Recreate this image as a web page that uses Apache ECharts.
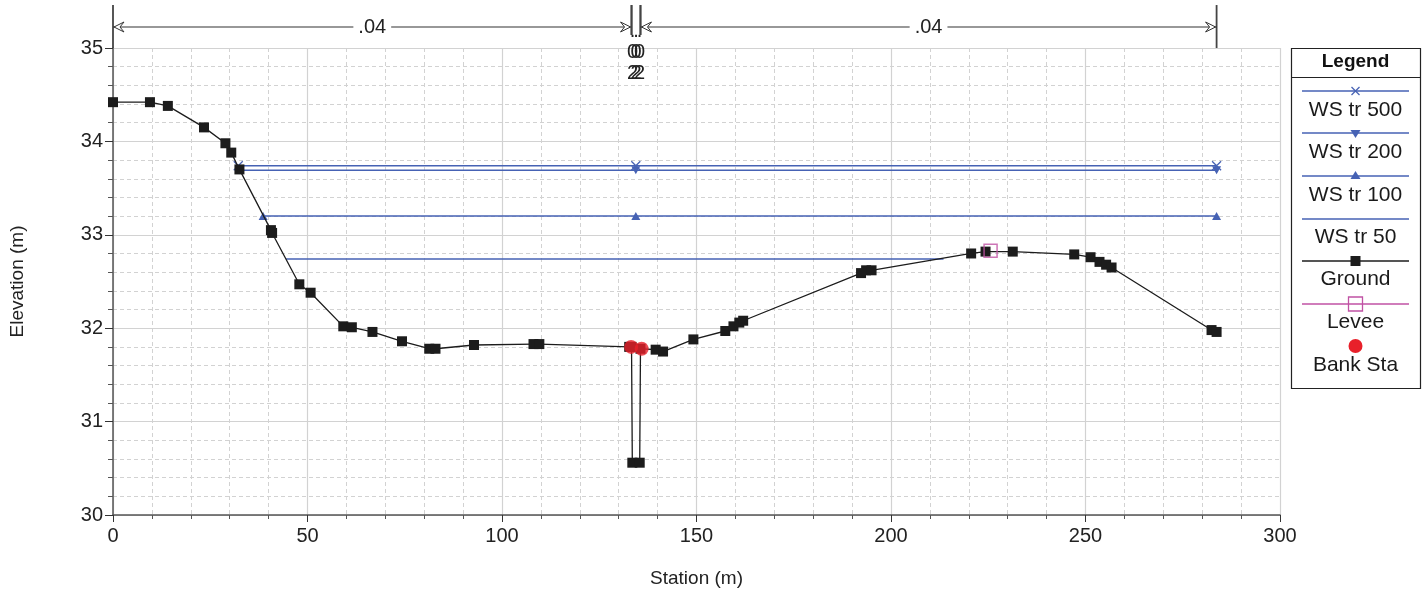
<!DOCTYPE html>
<html>
<head>
<meta charset="utf-8">
<script src="https://cdn.jsdelivr.net/npm/echarts@6/dist/echarts.min.js"></script>
<style>
html,body{margin:0;padding:0;background:#fff;}
#chart{width:1428px;height:597px;}
</style>
</head>
<body>
<div id="chart"></div>
<script>
// ---- Data ----
const groundSta = [0, 9.5, 14.1, 23.4, 28.9, 30.4, 32.5, 40.6, 40.9, 47.9, 50.8, 59.2, 61.4, 66.7, 74.3, 81.3, 82.9, 92.8, 108.1, 109.6, 132.7, 133.3, 133.5, 135.4, 135.6, 139.5, 141.4, 149.2, 157.4, 159.5, 161.0, 162.0, 192.3, 193.6, 195.0, 220.6, 224.3, 231.3, 247.1, 251.3, 253.6, 255.3, 256.7, 282.4, 283.7];
const groundElev = [34.42, 34.42, 34.38, 34.15, 33.98, 33.88, 33.70, 33.05, 33.02, 32.47, 32.38, 32.02, 32.01, 31.96, 31.86, 31.78, 31.78, 31.82, 31.83, 31.83, 31.80, 31.80, 30.56, 30.56, 31.78, 31.77, 31.75, 31.88, 31.97, 32.02, 32.06, 32.08, 32.59, 32.62, 32.62, 32.80, 32.82, 32.82, 32.79, 32.76, 32.71, 32.68, 32.65, 31.98, 31.96];

const ws500Sta = [32.2, 134.4, 283.7];
const ws500Elev = [33.74, 33.74, 33.74];
const ws200Sta = [32.6, 134.4, 283.7];
const ws200Elev = [33.69, 33.69, 33.69];
const ws100Sta = [38.6, 134.4, 283.7];
const ws100Elev = [33.20, 33.20, 33.20];
const ws50Sta = [44.5, 213.5];
const ws50Elev = [32.74, 32.74];

const leveeSta = [225.6];
const leveeElev = [32.83];
const bankSta = [133.2, 135.9];
const bankElev = [31.80, 31.78];

// Manning's n regions (breakpoints and values)
const nBreaks = [0, 133.3, 135.6, 283.7];
const nValues = ['.04', '.02', '.04'];

const legendNames = ['WS tr 500', 'WS tr 200', 'WS tr 100', 'WS tr 50', 'Ground', 'Levee', 'Bank Sta'];

// ---- Styling ----
const FONT = "'Liberation Sans', Arial, Helvetica, sans-serif";
const WS_COLOR = '#4662b4';
const GROUND_COLOR = '#1c1c1c';
const LEVEE_COLOR = '#c052a4';
const BANK_COLOR = '#e8202a';
const ANNOT_COLOR = '#333333';
const crossPath = 'path://M0,0L10,10M10,0L0,10';

function pairs(xs, ys) { return xs.map((x, i) => [x, ys[i]]); }

const chart = echarts.init(document.getElementById('chart'), null, {renderer: 'canvas'});

function renderAnnot(params, api) {
  const i = params.dataIndex;
  const s0 = api.value(0), s1 = api.value(1), yLine = api.value(2);
  const first = nBreaks[0], last = nBreaks[nBreaks.length - 1];
  const yTopVal = 35.46, yShortVal = 35.14, yAxisTop = 35;
  const p0 = api.coord([s0, yLine]);
  const p1 = api.coord([s1, yLine]);
  const children = [];
  const vert = (s) => {
    const top = api.coord([s, yTopVal]);
    const bot = api.coord([s, (s === first || s === last) ? yAxisTop : yShortVal]);
    children.push({type: 'line', shape: {x1: top[0], y1: top[1], x2: bot[0], y2: bot[1]}, style: {stroke: '#444', lineWidth: 1.8}});
  };
  vert(s0); vert(s1);
  const w = p1[0] - p0[0];
  const label = nValues[i];
  if (w > 30) {
    children.push({type: 'line', shape: {x1: p0[0], y1: p0[1], x2: p1[0], y2: p1[1]}, style: {stroke: ANNOT_COLOR, lineWidth: 1.2}});
    const arrow = (tip, dir) => {
      const y = p0[1];
      return {type: 'polygon', shape: {points: [[tip, y], [tip + dir * 10, y - 5], [tip + dir * 6, y], [tip + dir * 10, y + 5]]}, style: {stroke: ANNOT_COLOR, fill: '#fff', lineWidth: 1}};
    };
    children.push(arrow(p0[0] + 1, 1));
    children.push(arrow(p1[0] - 1, -1));
    children.push({type: 'text', style: {text: label, x: (p0[0] + p1[0]) / 2, y: p0[1], align: 'center', verticalAlign: 'middle', fill: '#222', fontSize: 20, fontFamily: FONT, backgroundColor: '#fff', padding: [0, 5]}});
  } else {
    const cx = (p0[0] + p1[0]) / 2;
    const stacked = label.split('').join('\n');
    [-3.5, 0, 3.5].forEach(dx => {
      children.push({type: 'text', style: {text: stacked, x: cx + dx, y: p0[1] - 6, align: 'center', verticalAlign: 'top', fill: '#222', fontSize: 20, lineHeight: 21, fontFamily: FONT}});
    });
  }
  return {type: 'group', children: children};
}

const annotData = nValues.map((v, i) => [nBreaks[i], nBreaks[i + 1], 35.225]);

// ---- Legend (drawn as graphic) ----
const LX = 1291.5, LY = 48.5, LW = 129, LH = 340;
const lx1 = 1302, lx2 = 1409, lcx = 1355.5;
const lineYs = [91, 133, 176, 219, 261, 304, 346];
const labYs = [110, 152, 195, 237, 279, 322, 365];
const legendGraphics = [
  {type: 'rect', shape: {x: LX, y: LY, width: LW, height: LH}, style: {fill: '#fff', stroke: '#222', lineWidth: 1.2}, z: 10},
  {type: 'text', style: {text: 'Legend', x: lcx, y: 62, align: 'center', verticalAlign: 'middle', font: 'bold 19px ' + FONT, fill: '#111'}, z: 11},
  {type: 'line', shape: {x1: LX, y1: 77.5, x2: LX + LW, y2: 77.5}, style: {stroke: '#222', lineWidth: 1}, z: 11}
];
const legendLineColors = [WS_COLOR, WS_COLOR, WS_COLOR, WS_COLOR, GROUND_COLOR, LEVEE_COLOR, null];
legendNames.forEach((name, i) => {
  const y = lineYs[i];
  const c = legendLineColors[i];
  if (c) legendGraphics.push({type: 'line', shape: {x1: lx1, y1: y, x2: lx2, y2: y}, style: {stroke: c, lineWidth: i < 4 ? 1.6 : 1.3}, z: 11});
  if (i === 0) {
    legendGraphics.push({type: 'line', shape: {x1: lcx - 4, y1: y - 4, x2: lcx + 4, y2: y + 4}, style: {stroke: WS_COLOR, lineWidth: 1.3}, z: 12});
    legendGraphics.push({type: 'line', shape: {x1: lcx - 4, y1: y + 4, x2: lcx + 4, y2: y - 4}, style: {stroke: WS_COLOR, lineWidth: 1.3}, z: 12});
  } else if (i === 1) {
    legendGraphics.push({type: 'polygon', shape: {points: [[lcx - 5, y - 3], [lcx + 5, y - 3], [lcx, y + 5]]}, style: {fill: WS_COLOR}, z: 12});
  } else if (i === 2) {
    legendGraphics.push({type: 'polygon', shape: {points: [[lcx - 5, y + 3], [lcx + 5, y + 3], [lcx, y - 5]]}, style: {fill: WS_COLOR}, z: 12});
  } else if (i === 4) {
    legendGraphics.push({type: 'rect', shape: {x: lcx - 5, y: y - 5, width: 10, height: 10}, style: {fill: GROUND_COLOR}, z: 12});
  } else if (i === 5) {
    legendGraphics.push({type: 'rect', shape: {x: lcx - 7, y: y - 7, width: 14, height: 14}, style: {fill: 'none', stroke: LEVEE_COLOR, lineWidth: 1.3}, z: 12});
  } else if (i === 6) {
    legendGraphics.push({type: 'circle', shape: {cx: lcx, cy: y, r: 7}, style: {fill: BANK_COLOR}, z: 12});
  }
  legendGraphics.push({type: 'text', style: {text: name, x: lcx, y: labYs[i], align: 'center', verticalAlign: 'middle', fontSize: 21, fontFamily: FONT, fill: '#1a1a1a'}, z: 12});
});

const gridColor = '#d2d2d2';

const option = {
  animation: false,
  backgroundColor: '#fff',
  textStyle: {fontFamily: FONT},
  grid: {left: 113, right: 148, top: 48, bottom: 82, containLabel: false},
  xAxis: {
    type: 'value', min: 0, max: 300, interval: 50,
    name: 'Station (m)', nameLocation: 'middle', nameGap: 54,
    nameTextStyle: {fontSize: 19, color: '#222', fontFamily: FONT},
    axisLine: {show: true, onZero: false, lineStyle: {color: '#555', width: 1.5}},
    axisTick: {show: true, length: 7, lineStyle: {color: '#333'}},
    minorTick: {show: true, splitNumber: 5, length: 4, lineStyle: {color: '#555'}},
    axisLabel: {fontSize: 20, color: '#222', margin: 11, fontFamily: FONT},
    splitLine: {show: true, lineStyle: {color: gridColor, width: 1.2}},
    minorSplitLine: {show: true, lineStyle: {color: gridColor, type: [4, 3], width: 1}}
  },
  yAxis: {
    type: 'value', min: 30, max: 35, interval: 1,
    name: 'Elevation (m)', nameLocation: 'middle', nameGap: 86, nameRotate: 90,
    nameTextStyle: {fontSize: 19, color: '#222', fontFamily: FONT},
    axisLine: {show: true, onZero: false, lineStyle: {color: '#555', width: 1.5}},
    axisTick: {show: true, length: 8, lineStyle: {color: '#333'}},
    minorTick: {show: true, splitNumber: 5, length: 5, lineStyle: {color: '#555'}},
    axisLabel: {fontSize: 20, color: '#222', margin: 10, fontFamily: FONT},
    splitLine: {show: true, lineStyle: {color: gridColor, width: 1.2}},
    minorSplitLine: {show: true, lineStyle: {color: gridColor, type: [4, 3], width: 1}}
  },
  graphic: legendGraphics,
  series: [
    {name: 'WS tr 50', type: 'line', data: pairs(ws50Sta, ws50Elev), showSymbol: false, symbol: 'none',
     lineStyle: {color: WS_COLOR, width: 1.5}, itemStyle: {color: WS_COLOR}, z: 3},
    {name: 'WS tr 100', type: 'line', data: pairs(ws100Sta, ws100Elev), symbol: 'triangle', symbolSize: [9, 8],
     lineStyle: {color: WS_COLOR, width: 1.5}, itemStyle: {color: WS_COLOR}, z: 3},
    {name: 'WS tr 200', type: 'line', data: pairs(ws200Sta, ws200Elev), symbol: 'triangle', symbolRotate: 180, symbolSize: [9, 8],
     lineStyle: {color: WS_COLOR, width: 1.5}, itemStyle: {color: WS_COLOR}, z: 3},
    {name: 'WS tr 500', type: 'line', data: pairs(ws500Sta, ws500Elev), symbol: crossPath, symbolSize: 9,
     lineStyle: {color: WS_COLOR, width: 1.5}, itemStyle: {color: 'none', borderColor: WS_COLOR, borderWidth: 1.3}, z: 3},
    {name: 'Ground', type: 'line', data: pairs(groundSta, groundElev), symbol: 'rect', symbolSize: 10,
     lineStyle: {color: GROUND_COLOR, width: 1.3}, itemStyle: {color: GROUND_COLOR}, z: 4},
    {name: 'Levee', type: 'scatter', data: pairs(leveeSta, leveeElev), symbol: 'rect', symbolSize: 13,
     itemStyle: {color: 'rgba(0,0,0,0)', borderColor: LEVEE_COLOR, borderWidth: 1.5}, z: 5},
    {name: 'Bank Sta', type: 'scatter', data: pairs(bankSta, bankElev), symbol: 'circle', symbolSize: 14,
     itemStyle: {color: BANK_COLOR}, z: 6},
    {name: 'n values', type: 'custom', coordinateSystem: 'cartesian2d', clip: false,
     data: annotData, encode: {x: [0, 1], y: 2}, renderItem: renderAnnot, z: 8, silent: true}
  ]
};
chart.setOption(option);
</script>
</body>
</html>
